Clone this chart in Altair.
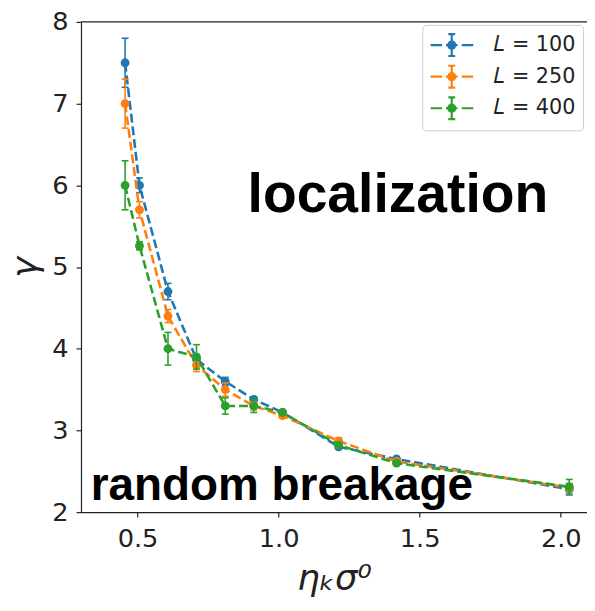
import altair as alt
import pandas as pd

# ---- data ----
x_vals = [0.456, 0.507, 0.608, 0.709, 0.811, 0.912, 1.014, 1.213, 1.418, 2.030]
series_names = ["𝐿 = 100", "𝐿 = 250", "𝐿 = 400"]
y_L100 = [7.50, 6.00, 4.70, 3.87, 3.60, 3.38, 3.22, 2.80, 2.65, 2.28]
e_L100 = [0.30, 0.09, 0.10, 0.05, 0.05, 0.03, 0.03, 0.03, 0.03, 0.07]
y_L250 = [7.00, 5.70, 4.40, 3.80, 3.50, 3.30, 3.18, 2.87, 2.62, 2.30]
e_L250 = [0.30, 0.10, 0.08, 0.08, 0.08, 0.05, 0.03, 0.04, 0.03, 0.05]
y_L400 = [6.00, 5.26, 4.00, 3.90, 3.30, 3.30, 3.22, 2.82, 2.60, 2.31]
e_L400 = [0.30, 0.05, 0.20, 0.15, 0.10, 0.08, 0.03, 0.03, 0.03, 0.09]
colors = ["#1f77b4", "#ff7f0e", "#2ca02c"]

x_ticks = [0.5, 1.0, 1.5, 2.0]
y_ticks = [2, 3, 4, 5, 6, 7, 8]

ann_text = ["localization", "random breakage"]
ann_x = [0.890, 0.334]
ann_y = [5.67, 2.148]
ann_size = [56, 46.5]

rows = []
for name, ys, es in zip(series_names, [y_L100, y_L250, y_L400], [e_L100, e_L250, e_L400]):
    for xv, yv, ev in zip(x_vals, ys, es):
        rows.append(dict(series=name, x=xv, y=yv, lo=yv - ev, hi=yv + ev))
df = pd.DataFrame(rows)
ann = pd.DataFrame(dict(text=ann_text, x=ann_x, y=ann_y, fs=ann_size))

W, H = 513, 497
FONT = "DejaVu Sans"
INK = "#222222"

xscale = alt.Scale(domain=[0.2997, 2.093], nice=False, zero=False)
yscale = alt.Scale(domain=[2, 8], nice=False, zero=False)
# scale for the legend-bearing point layers
pscale = alt.Scale(domain=series_names, range=colors)
# scale for lines / error bars (same colours, separate scale, no legend)
cscale = alt.Scale(domain=series_names[::-1], range=colors[::-1])

xaxis = alt.Axis(values=x_ticks, format=".1f", title="ηₖσ⁰", grid=False,
                 labelPadding=9, titlePadding=10)
yaxis = alt.Axis(values=y_ticks, format="d", title="γ", grid=False,
                 labelPadding=8, titlePadding=8)

# legend symbol: dashed line + error bar + dot
LEG_PATH = ("M-1,0H-0.03M0.3,0H1.27M1.63,0H2.6"
            "M0.78,-0.92V0.92M0.49,-0.92H1.07M0.49,0.92H1.07"
            "M1.08,0A0.3,0.3 0 1 1 0.48,0A0.3,0.3 0 1 1 1.08,0Z")

legend = alt.Legend(title=None, orient="none", legendX=346, legendY=3,
                    symbolType=LEG_PATH, symbolSize=576, symbolStrokeWidth=2.2,
                    symbolOpacity=1, labelFont=FONT, labelFontSize=21,
                    labelColor=INK, labelOffset=38, rowPadding=1, padding=7,
                    fillColor="rgba(255,255,255,0.8)", strokeColor="#cccccc",
                    cornerRadius=4)

base = alt.Chart(df)
layers = []
for name in series_names:
    b = base.transform_filter(alt.datum.series == name)
    col = alt.Color("series:N", scale=cscale, legend=None)
    line = b.mark_line(strokeDash=[9, 4], strokeWidth=2.6).encode(
        x=alt.X("x:Q", scale=xscale, axis=xaxis),
        y=alt.Y("y:Q", scale=yscale, axis=yaxis),
        color=col,
        order="x:Q",
    )
    bars = b.mark_rule(strokeWidth=1.6).encode(
        x=alt.X("x:Q", scale=xscale, axis=xaxis),
        y=alt.Y("lo:Q", scale=yscale, axis=yaxis),
        y2="hi:Q",
        color=col,
    )
    cap_lo = b.mark_point(shape="M-1,0L1,0", size=49, filled=False,
                          strokeWidth=1.6, opacity=1).encode(
        x=alt.X("x:Q", scale=xscale, axis=xaxis),
        y=alt.Y("lo:Q", scale=yscale, axis=yaxis),
        color=col,
    )
    cap_hi = b.mark_point(shape="M-1,0L1,0", size=49, filled=False,
                          strokeWidth=1.6, opacity=1).encode(
        x=alt.X("x:Q", scale=xscale, axis=xaxis),
        y=alt.Y("hi:Q", scale=yscale, axis=yaxis),
        color=col,
    )
    pts = b.mark_point(filled=True, size=49, opacity=1).encode(
        x=alt.X("x:Q", scale=xscale, axis=xaxis),
        y=alt.Y("y:Q", scale=yscale, axis=yaxis),
        fill=alt.Fill("series:N", scale=pscale, legend=legend),
        stroke=alt.Stroke("series:N", scale=pscale, legend=legend),
    )
    layers += [line, bars, cap_lo, cap_hi, pts]

top_spine = alt.Chart(df).mark_rule(color=INK, strokeWidth=1.2).encode(
    y=alt.Y("top:Q", scale=yscale, axis=yaxis)
).transform_aggregate(top="max(hi)").transform_calculate(top="8")

texts = alt.Chart(ann).mark_text(font="Liberation Sans", fontWeight="bold",
                                 align="left", baseline="alphabetic",
                                 color="black").encode(
    x=alt.X("x:Q", scale=xscale, axis=xaxis),
    y=alt.Y("y:Q", scale=yscale, axis=yaxis),
    text="text:N",
    size=alt.Size("fs:Q", scale=None, legend=None),
)

chart = alt.layer(top_spine, *layers, texts).properties(
    width=W, height=H,
    autosize=alt.AutoSizeParams(type="none"),
    padding={"left": 74, "top": 10, "right": 0, "bottom": 88},
).configure_view(stroke=None).configure_axis(
    domainColor=INK, domainWidth=1.2, tickColor=INK, tickWidth=1.2, tickSize=5,
    labelFont=FONT, labelFontSize=26, labelColor=INK,
    titleFont=FONT, titleFontSize=36, titleFontStyle="italic",
    titleFontWeight="normal", titleColor=INK,
)

chart.save("out.html", embed_options={"renderer": "svg", "actions": False})
